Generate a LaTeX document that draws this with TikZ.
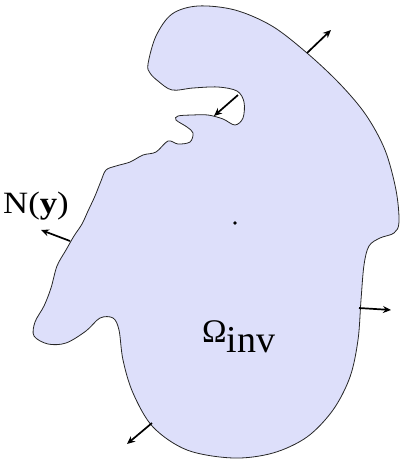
\documentclass[tikz,border=0pt]{standalone}
\usepackage{fontspec}
\setmainfont{Liberation Serif}
\usetikzlibrary{arrows.meta}
\definecolor{regionfill}{RGB}{221,223,250}
\tikzset{
  normal/.style={-{Stealth[length=8pt,width=7pt]}, line width=1.7pt, black},
  outline/.style={draw=black!85, line width=0.8pt, fill=regionfill}
}
\begin{document}
\begin{tikzpicture}[x=1pt,y=-1pt]
\useasboundingbox (0,0) rectangle (404,459);
\draw[outline] plot[smooth cycle, tension=0.55] coordinates {
 (148,64) (156,36) (172,14) (198,6) (235,10) (272,26) (307,53) (340,84)
 (366,115) (385,150) (396,190) (399,222) (394,233) (380,238) (369,246)
 (364,265) (361,300) (358,340) (350,377) (333,410) (307,437) (273,453)
 (233,458) (187,450) (153,427) (133,393) (123,360) (119,330) (113,318)
 (100,318) (86,331) (66,343) (48,344) (34,336) (35,322) (44,306)
 (51,288) (57,266) (66,250) (74,236) (82,224) (88,211) (95,196)
 (101,181) (106,170) (116,166) (130,162) (143,155) (156,152) (168,141)
 (178,144) (190,142) (193,133) (187,127) (176,120) (178,116) (192,115)
 (208,115) (223,119) (235,125) (243,118) (244,102) (237,91) (218,87)
 (193,88) (172,90) (158,81) (150,73)
};
\coordinate (t1) at (307,53);  \coordinate (t2) at (331,30);
\coordinate (n1) at (238,95);  \coordinate (n2) at (214,116);
\coordinate (l1) at (70,241);  \coordinate (l2) at (41,230);
\coordinate (r1) at (359,308); \coordinate (r2) at (391,310);
\coordinate (b1) at (152,423); \coordinate (b2) at (127,444);
\draw[normal] (t1) -- (t2);
\draw[normal] (n1) -- (n2);
\draw[normal] (l1) -- (l2);
\draw[normal] (r1) -- (r2);
\draw[normal] (b1) -- (b2);
\fill[black] (235,223) circle (1.8pt);
\node[anchor=base west, inner sep=0pt, font=\fontsize{31}{33}\selectfont] (ny) at (3,213) {\scalebox{1.12}[1]{N(\textbf{y})}};
\node[anchor=base west, inner sep=0pt, font=\fontsize{33}{35}\selectfont] (om) at (202,342) {Ω\raisebox{-10pt}{\fontsize{38}{40}\selectfont inv}};
\end{tikzpicture}
\end{document}
